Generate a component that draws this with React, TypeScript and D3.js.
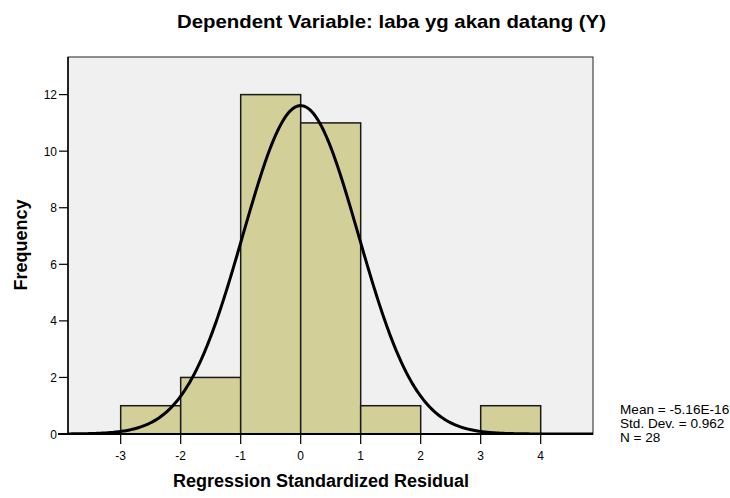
import React from "react";
import * as d3 from "d3";

const binStarts = [-3, -2, -1, 0, 1, 2, 3];
const binWidth = 1;
const frequencies = [1, 2, 12, 11, 1, 0, 1];
const xTicks = [-3, -2, -1, 0, 1, 2, 3, 4];
const yTicks = [0, 2, 4, 6, 8, 10, 12];
const meanValue = -5.16e-16;
const stdDev = 0.962;
const nCount = 28;
const statsLines = ["Mean = -5.16E-16", "Std. Dev. = 0.962", "N = 28"];
const titleText = "Dependent Variable: laba yg akan datang (Y)";
const xTitle = "Regression Standardized Residual";
const yTitle = "Frequency";

const W = 730;
const H = 498;
const plot = { left: 68, top: 57, right: 593, bottom: 434 };
const font = "'Liberation Sans', Arial, sans-serif";

export default function App() {
  const x = d3.scaleLinear().domain([-3.878, 4.872]).range([plot.left, plot.right]);
  const y = d3.scaleLinear().domain([0, 13.33]).range([plot.bottom, plot.top]);

  const curvePts: [number, number][] = [];
  const [d0, d1] = x.domain();
  for (let i = 0; i <= 400; i++) {
    const v = d0 + ((d1 - d0) * i) / 400;
    const dens =
      (nCount * binWidth) / (stdDev * Math.sqrt(2 * Math.PI)) *
      Math.exp(-0.5 * ((v - meanValue) / stdDev) ** 2);
    curvePts.push([x(v), y(dens)]);
  }
  const line = d3.line();

  return (
    <svg
      width={W}
      height={H}
      style={{ position: "absolute", left: 0, top: 0, background: "#fff" }}
      fontFamily={font}
    >
      <defs>
        <clipPath id="plotclip">
          <rect x={plot.left} y={plot.top} width={plot.right - plot.left} height={plot.bottom - plot.top} />
        </clipPath>
      </defs>
      <text
        x={177}
        y={28}
        fontWeight="bold"
        fontSize={18.5}
        fill="#000"
        textLength={429}
        lengthAdjust="spacingAndGlyphs"
      >
        {titleText}
      </text>
      <rect
        x={plot.left}
        y={plot.top}
        width={plot.right - plot.left}
        height={plot.bottom - plot.top}
        fill="#f0f0f0"
        stroke="#222"
        strokeWidth={1}
      />
      {binStarts.map((b, i) =>
        frequencies[i] > 0 ? (
          <rect
            key={i}
            x={x(b)}
            y={y(frequencies[i])}
            width={x(b + binWidth) - x(b)}
            height={y(0) - y(frequencies[i])}
            fill="#d3cf99"
            stroke="#1a1a1a"
            strokeWidth={1.5}
          />
        ) : null
      )}
      <path
        d={line(curvePts) || ""}
        fill="none"
        stroke="#000"
        strokeWidth={3}
        clipPath="url(#plotclip)"
      />
      <line x1={58} x2={plot.right} y1={plot.bottom} y2={plot.bottom} stroke="#000" strokeWidth={2} />
      <line x1={plot.left} x2={plot.left} y1={plot.top} y2={plot.bottom} stroke="#000" strokeWidth={1.5} />
      {yTicks.map((t) => (
        <g key={t}>
          <line x1={59} x2={plot.left} y1={y(t)} y2={y(t)} stroke="#000" strokeWidth={1.2} />
          <text x={57} y={y(t) + 4.5} textAnchor="end" fontSize={12} fill="#000">
            {t}
          </text>
        </g>
      ))}
      {xTicks.map((t) => (
        <g key={t}>
          <line x1={x(t)} x2={x(t)} y1={plot.bottom} y2={plot.bottom + 10} stroke="#000" strokeWidth={1.2} />
          <text x={x(t)} y={plot.bottom + 26} textAnchor="middle" fontSize={12} fill="#000">
            {t}
          </text>
        </g>
      ))}
      <text x={321} y={487} textAnchor="middle" fontWeight="bold" fontSize={18} fill="#000">
        {xTitle}
      </text>
      <text
        transform={`translate(27, 245) rotate(-90)`}
        textAnchor="middle"
        fontWeight="bold"
        fontSize={18}
        fill="#000"
      >
        {yTitle}
      </text>
      {statsLines.map((s, i) => (
        <text key={i} x={620} y={414 + i * 14} fontSize={13.6} fill="#000">
          {s}
        </text>
      ))}
    </svg>
  );
}
